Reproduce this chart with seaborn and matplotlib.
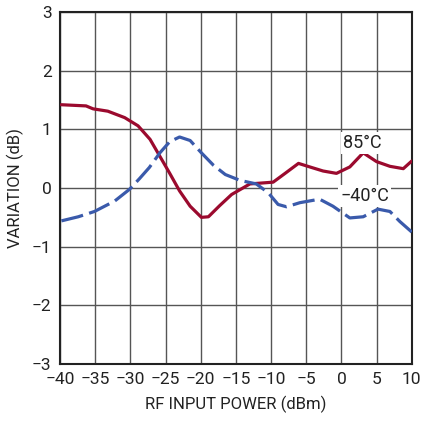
import matplotlib
matplotlib.use("Agg")
import matplotlib.pyplot as plt
import seaborn as sns
import pandas as pd
import numpy as np

# 85C curve
x_85 = [-39.8, -36.3, -35.3, -33.2, -30.8, -28.9, -27.2, -25.8, -24.4, -23.0, -21.5, -19.9,
        -18.9, -17.3, -15.6, -13.0, -9.7, -8.0, -6.1, -4.5, -2.6, -0.7, 1.2, 3.1, 5.0,
        6.9, 8.8, 10]
y_85 = [1.42, 1.40, 1.35, 1.31, 1.20, 1.06, 0.83, 0.54, 0.25, -0.05, -0.31, -0.50,
        -0.49, -0.30, -0.11, 0.07, 0.10, 0.25, 0.42, 0.36, 0.29, 0.25, 0.36, 0.60, 0.45,
        0.37, 0.33, 0.46]

# -40C curve
x_m40 = [-39.8, -37.4, -35.1, -32.2, -30.1, -28.7, -27.3, -25.8, -24.4, -23.0, -21.5,
         -19.9, -18.2, -16.5, -14.4, -12.1, -10.4, -9.0, -7.8, -5.9, -3.1, -1.2, 1.2,
         3.1, 5.2, 6.9, 8.3, 10]
y_m40 = [-0.56, -0.49, -0.40, -0.22, -0.02, 0.16, 0.35, 0.60, 0.79, 0.87, 0.81,
         0.60, 0.39, 0.23, 0.13, 0.07, -0.08, -0.28, -0.32, -0.25, -0.19, -0.31, -0.51,
         -0.49, -0.36, -0.40, -0.57, -0.75]

df = pd.concat([
    pd.DataFrame({"power": x_85, "var": y_85, "temp": "85°C"}),
    pd.DataFrame({"power": x_m40, "var": y_m40, "temp": "−40°C"}),
])

sns.set_theme(style="white")
plt.rcParams["font.family"] = ["Roboto", "DejaVu Sans"]

fig = plt.figure(figsize=(4.21, 4.23), dpi=100)
ax = fig.add_axes([0.1425, 0.1395, 0.8355, 0.832])

sns.lineplot(data=df, x="power", y="var", hue="temp", style="temp",
             palette={"85°C": "#9b0a2e", "−40°C": "#3a5aab"},
             dashes={"85°C": "", "−40°C": (7, 2)},
             linewidth=2.3, legend=False, sort=False, ax=ax, zorder=3)
for ln in ax.lines:
    ln.set_solid_joinstyle("round")
    ln.set_dash_joinstyle("round")

ax.set_xlim(-40, 10)
ax.set_ylim(-3, 3)
ax.set_xticks(np.arange(-40, 11, 5))
ax.set_yticks(np.arange(-3, 4, 1))
ax.grid(True, color="#555555", linewidth=1.0)
ax.tick_params(length=0, labelsize=12.5, pad=6, colors="#222222")
for s in ax.spines.values():
    s.set_color("#222222")
    s.set_linewidth(1.5)

ax.set_xlabel("RF INPUT POWER (dBm)", fontsize=12, color="#222222", labelpad=6)
ax.set_ylabel("VARIATION (dB)", fontsize=12, color="#222222", labelpad=6)

box = dict(facecolor="white", edgecolor="none", pad=1.5)
ax.text(3.0, 0.77, "85°C", fontsize=13, ha="center", va="center", color="#222222", bbox=box, zorder=4)
ax.text(3.3, -0.14, "−40°C", fontsize=13, ha="center", va="center", color="#222222", bbox=box, zorder=4)

plt.savefig("out.png", dpi=100)
plt.close()
